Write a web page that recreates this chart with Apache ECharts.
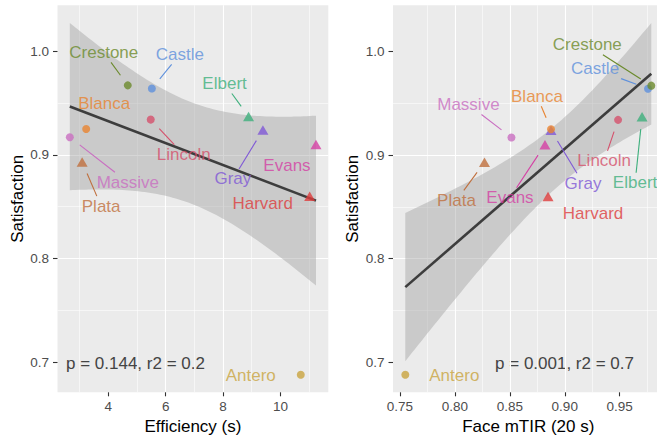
<!DOCTYPE html>
<html>
<head>
<meta charset="utf-8">
<script src="https://cdn.jsdelivr.net/npm/echarts@6/dist/echarts.min.js"></script>
<style>
html,body{margin:0;padding:0;background:#ffffff;}
#chart{width:657px;height:437px;}
</style>
</head>
<body>
<div id="chart"></div>
<script>
// ---------------- data ----------------
const mountains    = ['Antero','Blanca','Castle','Crestone','Elbert','Evans','Gray','Harvard','Lincoln','Massive','Plata'];
const efficiency   = [10.71, 3.23, 5.52, 4.68, 8.89, 11.24, 9.39, 11.02, 5.48, 2.66, 3.09];
const faceMTIR     = [0.755, 0.8875, 0.9757, 0.9787, 0.9703, 0.882, 0.8875, 0.8848, 0.9485, 0.8515, 0.827];
const satisfaction = [0.688, 0.925, 0.964, 0.967, 0.937, 0.910, 0.924, 0.860, 0.934, 0.917, 0.893];
const markerGroup  = ['circle','circle','circle','circle','triangle','triangle','triangle','triangle','circle','circle','triangle'];
const yTicks       = [0.7, 0.8, 0.9, 1.0];
const effTicks     = [4, 6, 8, 10];
const mtirTicks    = [0.75, 0.80, 0.85, 0.90, 0.95];
const statsText    = ['p = 0.144, r2 = 0.2', 'p = 0.001, r2 = 0.7'];
const xTitles      = ['Efficiency (s)', 'Face mTIR (20 s)'];
const yTitle       = 'Satisfaction';

// ---------------- styles / layout ----------------
const FONT = '"Liberation Sans", Arial, sans-serif';
const colorOf = {
  Antero:'#C9A43E', Blanca:'#E8832F', Castle:'#5E90DC', Crestone:'#6B8A2C', Elbert:'#3DAF7C',
  Evans:'#D43FA4', Gray:'#7F58D6', Harvard:'#DD3C3C', Lincoln:'#D5506B', Massive:'#C96EC1', Plata:'#BF6F3D'
};
// label centre offsets in pixels relative to the point, and whether a repel segment is drawn
const labelLayoutCfg = [
  { Antero:[-50,1,0], Blanca:[18,-25,0], Castle:[28,-34,1], Crestone:[-24,-33,1], Elbert:[-24,-33,1],
    Evans:[-29,21,0], Gray:[-30,49,1], Harvard:[-47,7,0], Lincoln:[33,35,1], Massive:[58,45,1], Plata:[19,44,1] },
  { Antero:[49,1,0], Blanca:[-14,-33,1], Castle:[-53,-20,1], Crestone:[-64,-41,1], Elbert:[-7,66,1],
    Evans:[-35,53,1], Gray:[32,53,1], Harvard:[45,17,0], Lincoln:[-14,41,1], Massive:[-43,-33,1], Plata:[-28,38,1] }
];
const gridsPx = [
  { left: 57.5, top: 5.3, width: 270.8, height: 387 },
  { left: 393,  top: 5.3, width: 270.6, height: 387 }
];

// ---------------- helpers (linear model, 95% CI like geom_smooth(method='lm')) ----------------
const T975 = {9: 2.2622};
function fitLine(xs, ys) {
  const n = xs.length;
  const xbar = xs.reduce((a,b)=>a+b,0)/n, ybar = ys.reduce((a,b)=>a+b,0)/n;
  let sxx = 0, sxy = 0;
  for (let i=0;i<n;i++){ sxx += (xs[i]-xbar)**2; sxy += (xs[i]-xbar)*(ys[i]-ybar); }
  const slope = sxy/sxx, intercept = ybar - slope*xbar;
  let sse = 0;
  for (let i=0;i<n;i++){ sse += (ys[i]-intercept-slope*xs[i])**2; }
  return { n, xbar, sxx, slope, intercept, s: Math.sqrt(sse/(n-2)) };
}
function smoothBand(xs, ys) {
  const f = fitLine(xs, ys);
  const t = T975[f.n-2] || 2.2622;
  const lo = Math.min(...xs), hi = Math.max(...xs);
  const upper = [], lower = [];
  for (let k=0;k<80;k++){
    const x = lo + (hi-lo)*k/79;
    const yh = f.intercept + f.slope*x;
    const se = f.s*Math.sqrt(1/f.n + (x-f.xbar)**2/f.sxx);
    upper.push([x, yh + t*se]); lower.push([x, yh - t*se]);
  }
  return { f, lo, hi, upper, lower };
}
function expand(lo, hi) { const d = (hi-lo)*0.05; return [lo-d, hi+d]; }

const measureCtx = document.createElement('canvas').getContext('2d');
measureCtx.font = '17px ' + FONT;
function textW(s){ return measureCtx.measureText(s).width; }

const chart = echarts.init(document.getElementById('chart'), null, {renderer:'svg'});

const xData = [efficiency, faceMTIR];
const xTickSets = [effTicks, mtirTicks];
const xFmt = [v => String(v), v => v.toFixed(2)];

const grids = [], xAxes = [], yAxes = [], series = [], graphics = [];

for (let k=0;k<2;k++){
  const xs = xData[k];
  const band = smoothBand(xs, satisfaction);
  const xExt = expand(Math.min(...xs), Math.max(...xs));
  const yLo = Math.min(...satisfaction, ...band.lower.map(p=>p[1]));
  const yHi = Math.max(...satisfaction, ...band.upper.map(p=>p[1]));
  const yExt = expand(yLo, yHi);

  grids.push(Object.assign({ show:true, backgroundColor:'#EBEBEB', borderWidth:0, containLabel:false, outerBoundsMode:'none' }, gridsPx[k]));

  xAxes.push({
    type:'value', gridIndex:k, min:xExt[0], max:xExt[1], splitNumber:5,
    name: xTitles[k], nameLocation:'middle', nameGap:26,
    nameTextStyle:{ fontSize:17, color:'#000', fontFamily:FONT },
    axisLine:{ show:false },
    axisTick:{ show:true, length:4, lineStyle:{ color:'#333', width:1.1 }, customValues: xTickSets[k] },
    axisLabel:{ show:true, margin:7, fontSize:13.5, color:'#4D4D4D', fontFamily:FONT,
                customValues: xTickSets[k], formatter: xFmt[k] },
    splitLine:{ show:true, showMinLine:false, showMaxLine:false, lineStyle:{ color:'#FFFFFF', width:1.1 } },
    minorTick:{ show:false, splitNumber:2 },
    minorSplitLine:{ show:true, lineStyle:{ color:'#FFFFFF', width:0.55 } }
  });
  yAxes.push({
    type:'value', gridIndex:k, min:yExt[0], max:yExt[1], splitNumber:5,
    name: yTitle, nameLocation:'middle', nameGap:32, nameRotate:90,
    nameTextStyle:{ fontSize:17, color:'#000', fontFamily:FONT },
    axisLine:{ show:false },
    axisTick:{ show:true, length:4.5, lineStyle:{ color:'#333', width:1.1 }, customValues: yTicks },
    axisLabel:{ show:true, margin:8.5, fontSize:13.5, color:'#4D4D4D', fontFamily:FONT,
                customValues: yTicks, formatter: v => v.toFixed(1) },
    splitLine:{ show:true, showMinLine:false, showMaxLine:false, lineStyle:{ color:'#FFFFFF', width:1.1 } },
    minorTick:{ show:false, splitNumber:2 },
    minorSplitLine:{ show:true, lineStyle:{ color:'#FFFFFF', width:0.55 } }
  });

  // confidence band
  series.push({
    type:'custom', xAxisIndex:k, yAxisIndex:k, z:1, silent:true, clip:false,
    data:[[band.lo, band.f.intercept + band.f.slope*band.lo]],
    encode:{ x:0, y:1 },
    renderItem:(params, api) => {
      const pts = band.upper.map(p=>api.coord(p)).concat(band.lower.slice().reverse().map(p=>api.coord(p)));
      return { type:'polygon', shape:{ points:pts }, style:{ fill:'rgba(153,153,153,0.4)' } };
    }
  });
  // regression line
  series.push({
    type:'line', xAxisIndex:k, yAxisIndex:k, z:2, silent:true, showSymbol:false, symbol:'none',
    data:[[band.lo, band.f.intercept + band.f.slope*band.lo], [band.hi, band.f.intercept + band.f.slope*band.hi]],
    lineStyle:{ color:'#3D3D3D', width:2.6 }
  });
  // points, triangles first then circles
  const cfg = labelLayoutCfg[k];
  ['triangle','circle'].forEach((shape, si) => {
    const items = [];
    mountains.forEach((m, i) => {
      if (markerGroup[i] !== shape) return;
      items.push({
        name:m, value:[xs[i], satisfaction[i]],
        itemStyle:{ color: colorOf[m] },
        label:{ color: colorOf[m], offset:[cfg[m][0], cfg[m][1]] }
      });
    });
    series.push({
      type:'scatter', xAxisIndex:k, yAxisIndex:k, z:3+si, silent:true,
      symbol: shape, symbolSize: shape==='triangle' ? [11,9.5] : 8,
      data: items,
      label:{ show:true, position:'inside', formatter: p => p.name, fontSize:17, fontFamily:FONT }
    });
  });
  // repel segments
  const segData = [];
  mountains.forEach((m, i) => { if (cfg[m][2]) segData.push([xs[i], satisfaction[i], i]); });
  series.push({
    type:'custom', xAxisIndex:k, yAxisIndex:k, z:6, silent:true, clip:false,
    data: segData, encode:{ x:0, y:1 },
    renderItem:(params, api) => {
      const i = api.value(2); const m = mountains[i];
      const p = api.coord([api.value(0), api.value(1)]);
      const c = [p[0]+cfg[m][0], p[1]+cfg[m][1]];
      const dx = p[0]-c[0], dy = p[1]-c[1];
      const len = Math.hypot(dx, dy);
      const hw = textW(m)/2 + 2, hh = 10;
      const t = Math.min(dx===0?Infinity:hw/Math.abs(dx), dy===0?Infinity:hh/Math.abs(dy));
      const e = [c[0]+dx*t, c[1]+dy*t];
      const gap = 12.5;
      const s = [p[0]-dx/len*gap, p[1]-dy/len*gap];
      return { type:'line', shape:{ x1:s[0], y1:s[1], x2:e[0], y2:e[1] },
               style:{ stroke: colorOf[m], lineWidth:1.1 } };
    }
  });
}

graphics.push({ type:'text', x:66, y:363.5, silent:true,
  style:{ text: statsText[0], fontSize:17, fontFamily:FONT, fill:'#444444', align:'left', verticalAlign:'middle', textAlign:'left', textVerticalAlign:'middle' } });
graphics.push({ type:'text', x:634, y:363.5, silent:true,
  style:{ text: statsText[1], fontSize:17, fontFamily:FONT, fill:'#444444', align:'right', verticalAlign:'middle', textAlign:'right', textVerticalAlign:'middle' } });

chart.setOption({
  animation:false,
  backgroundColor:'#FFFFFF',
  textStyle:{ fontFamily: FONT },
  grid: grids, xAxis: xAxes, yAxis: yAxes, series: series, graphic: graphics
});
</script>
</body>
</html>
